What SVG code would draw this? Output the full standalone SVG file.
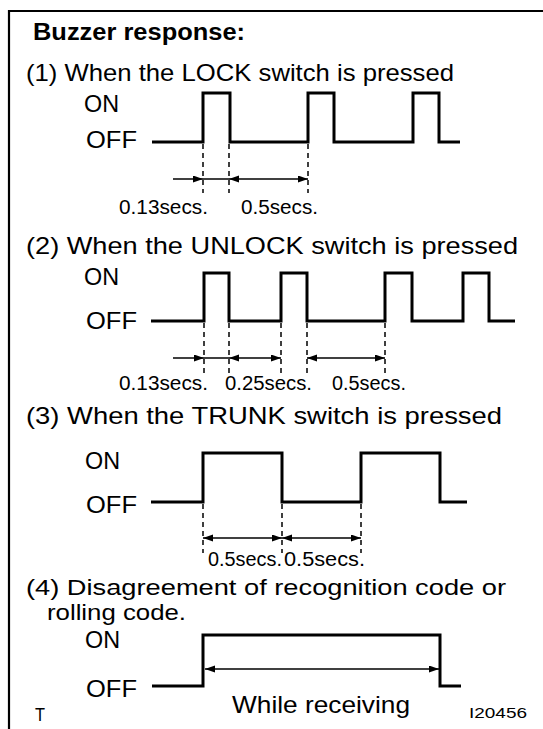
<svg xmlns="http://www.w3.org/2000/svg" width="543" height="729" viewBox="0 0 543 729">
<style>
text{font-family:"Liberation Sans",Arial,sans-serif;fill:#000}
.h{font-size:24px}
.h4{font-size:22px}
.hb{font-size:23px;font-weight:bold}
.lab{font-size:24px}
.t{font-size:19.5px}
.wave{fill:none;stroke:#000;stroke-width:3}
.dash{stroke:#000;stroke-width:1.5;stroke-dasharray:5,4}
.dim{stroke:#000;stroke-width:1.5;fill:none}
.ar{marker-end:url(#ah)}
.ar2{marker-start:url(#ah);marker-end:url(#ah)}
</style>
<defs>
<marker id="ah" markerUnits="userSpaceOnUse" markerWidth="11" markerHeight="8" refX="10" refY="3.5" orient="auto-start-reverse">
<path d="M0,0 L10,3.5 L0,7 z" fill="#000"/>
</marker>
</defs>
<rect width="543" height="729" fill="#fff"/>
<g id="frame"><path d="M9,729 V11 H543" fill="none" stroke="#000" stroke-width="2.2"/></g>
<g id="title"><text class="hb" x="33" y="40" textLength="212" lengthAdjust="spacingAndGlyphs">Buzzer response:</text></g>

<g id="sec1">
<text class="h" x="26" y="81" textLength="428" lengthAdjust="spacingAndGlyphs">(1) When the LOCK switch is pressed</text>
<text class="lab" x="84" y="112" textLength="35" lengthAdjust="spacingAndGlyphs">ON</text>
<text class="lab" x="86" y="148" textLength="51" lengthAdjust="spacingAndGlyphs">OFF</text>
<path class="wave" d="M152,142 H203 V93 H230 V142 H308 V93 H334 V142 H413 V93 H439 V142 H460"/>
<text class="t" x="119" y="214" textLength="89" lengthAdjust="spacingAndGlyphs">0.13secs.</text>
<text class="t" x="241" y="214" textLength="77" lengthAdjust="spacingAndGlyphs">0.5secs.</text>
</g>

<g id="sec2">
<text class="h" x="26" y="254" textLength="492" lengthAdjust="spacingAndGlyphs">(2) When the UNLOCK switch is pressed</text>
<text class="lab" x="84" y="285" textLength="35" lengthAdjust="spacingAndGlyphs">ON</text>
<text class="lab" x="86" y="329" textLength="51" lengthAdjust="spacingAndGlyphs">OFF</text>
<path class="wave" d="M151,321 H204 V273 H229 V321 H281 V273 H307 V321 H385 V273 H412 V321 H463 V273 H489 V321 H515"/>
<text class="t" x="119" y="390" textLength="89" lengthAdjust="spacingAndGlyphs">0.13secs.</text>
<text class="t" x="225" y="390" textLength="87" lengthAdjust="spacingAndGlyphs">0.25secs.</text>
<text class="t" x="332" y="390" textLength="74" lengthAdjust="spacingAndGlyphs">0.5secs.</text>
</g>

<g id="sec3">
<text class="h" x="26" y="424" textLength="476" lengthAdjust="spacingAndGlyphs">(3) When the TRUNK switch is pressed</text>
<text class="lab" x="85" y="469" textLength="35" lengthAdjust="spacingAndGlyphs">ON</text>
<text class="lab" x="86" y="513" textLength="51" lengthAdjust="spacingAndGlyphs">OFF</text>
<path class="wave" d="M151,502 H203 V453 H282 V502 H361 V453 H440 V502 H467"/>
<text class="t" x="208" y="566" textLength="74" lengthAdjust="spacingAndGlyphs">0.5secs.</text>
<text class="t" x="284" y="566" textLength="81" lengthAdjust="spacingAndGlyphs">0.5secs.</text>
</g>

<g id="sec4">
<text class="h4" x="26" y="595" textLength="480" lengthAdjust="spacingAndGlyphs">(4) Disagreement of recognition code or</text>
<text class="h4" x="47" y="620" textLength="139" lengthAdjust="spacingAndGlyphs">rolling code.</text>
<text class="lab" x="85" y="648" textLength="35" lengthAdjust="spacingAndGlyphs">ON</text>
<text class="lab" x="86" y="697" textLength="51" lengthAdjust="spacingAndGlyphs">OFF</text>
<path class="wave" d="M152,686 H203 V635 H440 V686 H461"/>
<text class="h" x="232" y="713" textLength="178" lengthAdjust="spacingAndGlyphs">While receiving</text>
</g>

<g id="connectors">
<line class="dash" x1="203" y1="144" x2="203" y2="193"/>
<line class="dash" x1="229" y1="144" x2="229" y2="193"/>
<line class="dash" x1="308" y1="144" x2="308" y2="193"/>
<line class="dim ar" x1="173" y1="179" x2="203" y2="179"/>
<line class="dim" x1="203" y1="179" x2="229" y2="179"/>
<line class="dim ar2" x1="229" y1="179" x2="308" y2="179"/>

<line class="dash" x1="204" y1="323" x2="204" y2="374"/>
<line class="dash" x1="229" y1="323" x2="229" y2="374"/>
<line class="dash" x1="281" y1="323" x2="281" y2="374"/>
<line class="dash" x1="307" y1="323" x2="307" y2="374"/>
<line class="dash" x1="385" y1="323" x2="385" y2="374"/>
<line class="dim ar" x1="173" y1="358" x2="204" y2="358"/>
<line class="dim" x1="204" y1="358" x2="229" y2="358"/>
<line class="dim ar2" x1="229" y1="358" x2="281" y2="358"/>
<line class="dim ar2" x1="307" y1="358" x2="385" y2="358"/>

<line class="dash" x1="203" y1="504" x2="203" y2="553"/>
<line class="dash" x1="282" y1="504" x2="282" y2="553"/>
<line class="dash" x1="361" y1="504" x2="361" y2="553"/>
<line class="dim ar2" x1="203" y1="538" x2="282" y2="538"/>
<line class="dim ar2" x1="282" y1="538" x2="361" y2="538"/>

<line class="dim ar2" x1="205" y1="669" x2="439" y2="669"/>
</g>

<g id="footer">
<text x="35" y="721" style="font-size:18px" textLength="10" lengthAdjust="spacingAndGlyphs">T</text>
<text x="469" y="718" style="font-size:14px" textLength="58" lengthAdjust="spacingAndGlyphs">I20456</text>
</g>
</svg>
